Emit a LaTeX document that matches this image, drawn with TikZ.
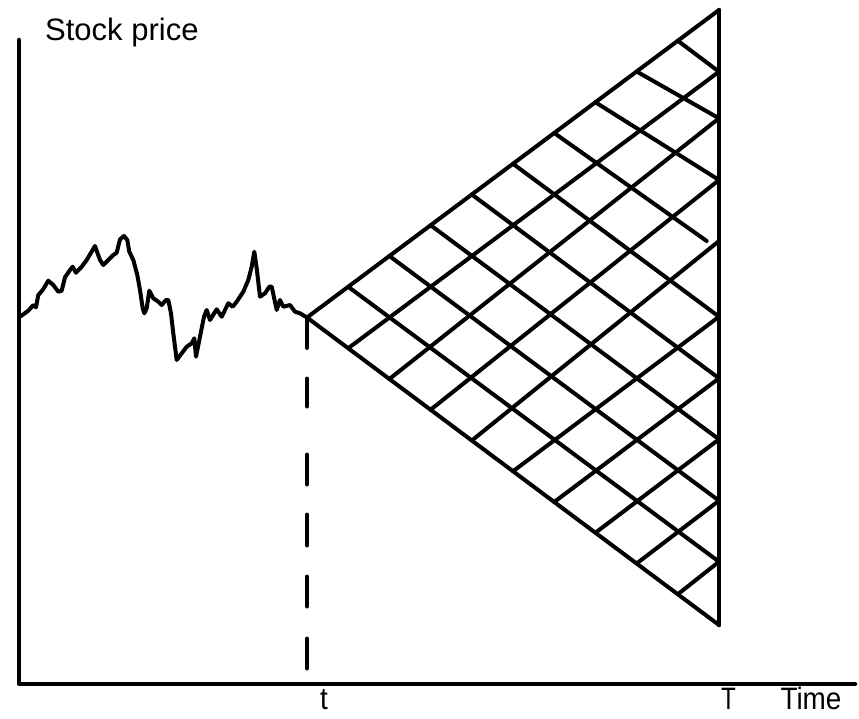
\documentclass[tikz,border=0pt]{standalone}
\usepackage{fontspec}
\usepackage{graphicx}
\setmainfont{Liberation Sans}
\usetikzlibrary{calc}
\begin{document}
\begin{tikzpicture}[x=1pt,y=-1pt,line cap=round,line join=round,
  axisline/.style={line width=4.5pt},
  latline/.style={line width=4pt},
  priceline/.style={line width=4pt},
  lbl/.style={inner sep=0pt,font=\fontsize{31}{31}\selectfont}]
\useasboundingbox (0,0) rectangle (859,718);

% axes
\coordinate (O) at (19,684);
\coordinate (Ytop) at (19,40);
\coordinate (Xend) at (855,684);
\draw[axisline] (Ytop) -- (O) -- (Xend);

% lattice nodes
\coordinate (A) at (307,317.5);
\foreach \k in {1,...,9}{
  \coordinate (U\k) at ({307+41.2*\k},{317.5-30.75*\k});
  \coordinate (L\k) at ({307+41.2*\k},{317.5+30.75*\k});
}
\coordinate (U10) at (719,10);
\coordinate (L10) at (719,625);
\foreach \m/\y in {1/71.7,2/118.3,3/180,4/241,5/316.7,6/378.3,7/439.3,8/500.7,9/561.7}{
  \coordinate (E\m) at (719,\y);
}
\coordinate (S) at (706.7,241);

% up-right lines
\foreach \k in {1,...,9}{
  \draw[latline] (L\k) -- (E\k);
}
% down-right lines
\foreach \k/\m in {9/1,8/2,7/3,5/5,4/6,3/7,2/8,1/9}{
  \draw[latline] (U\k) -- (E\m);
}
\draw[latline] (U6) -- (S);

% triangle outline
\draw[latline] (U10) -- (A) -- (L10);
\draw[axisline] (U10) -- (L10);

% dashed line at t
\foreach \a/\b in {318/348,378.5/406.5,454.5/484.5,514.5/545.5,576.5/606.5,638.5/668.5}{
  \draw[latline] (307,\a) -- (307,\b);
}

% stock price path
\coordinate (P0) at (20,316.7);
\draw[priceline] (P0) -- (28.3,310.7) -- (33.3,305) -- (36,307.3) -- (38.3,295) -- (42.7,290)
 -- (48.3,280.7) -- (53.3,285) -- (58.3,291.7) -- (61.7,290.7) -- (65,277.3) -- (70,270)
 -- (72.7,266.7) -- (76,272.7) -- (81.7,266.7) -- (86.7,260) -- (95,246) -- (100,260)
 -- (103.3,265) -- (113.3,255) -- (116.7,252.7) -- (120,239.3) -- (124,236) -- (127.3,240)
 -- (129.3,251.7) -- (133.3,260) -- (137.3,275) -- (140,290) -- (142.7,308.3) -- (144.3,313.3)
 -- (146.7,308.3) -- (149.3,290.7) -- (153.3,298.3) -- (158.3,301.7) -- (161.7,305) -- (166,300)
 -- (168.3,300) -- (171,313.3) -- (173.3,333.3) -- (176.7,360) -- (181.7,353.3) -- (186.7,346.7)
 -- (191.7,343.3) -- (194.3,338.3) -- (196,356.7) -- (200,336.7) -- (204,316.7) -- (206.7,310)
 -- (210,320) -- (216.7,309.3) -- (221.7,316.7) -- (228.3,303.3) -- (232.7,306.7) -- (236.7,301.7)
 -- (240,296.7) -- (243.3,291.7) -- (248.3,280) -- (251.7,266.7) -- (254.3,251.7) -- (256.7,268.3)
 -- (260,296.7) -- (265,293.3) -- (269.3,286.7) -- (271.7,286.7) -- (276.7,310) -- (280,300)
 -- (283.3,306.7) -- (290,305) -- (295,311.7) -- (300,313.3) -- (A);

% labels
\node[lbl,anchor=base west] (ylabel) at (45,40.7) {Stock price};
\node[lbl,anchor=base] (tlabel) at (324,709) {\scalebox{0.9}[1]{t}};
\node[lbl,anchor=base] (Tlabel) at (728.4,709) {\scalebox{0.78}[1]{T}};
\node[lbl,anchor=base] (timelabel) at (811,709) {\scalebox{0.9}[1]{Time}};
\end{tikzpicture}
\end{document}
